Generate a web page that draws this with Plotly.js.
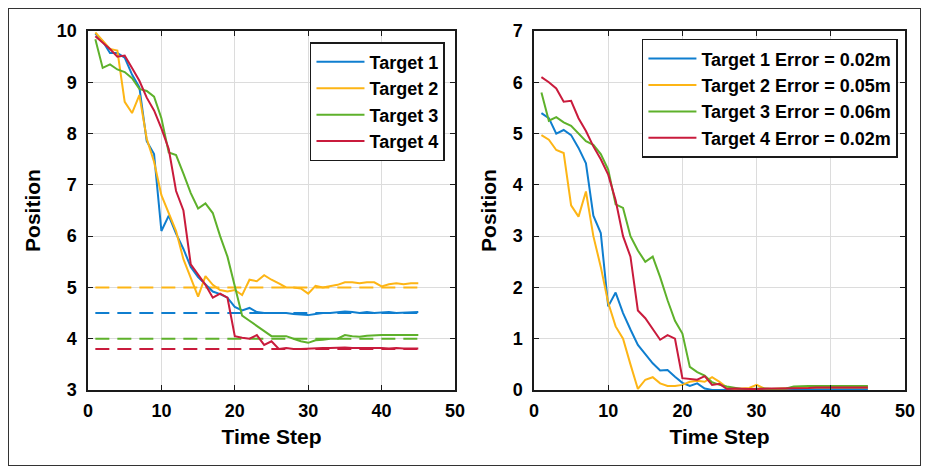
<!DOCTYPE html>
<html>
<head>
<meta charset="utf-8">
<script src="https://cdn.plot.ly/plotly-3.0.1.min.js"></script>
<style>
  html, body { margin: 0; padding: 0; background: #fff; }
  #wrap { position: relative; width: 929px; height: 473px; }
  #chart { width: 929px; height: 473px; }
  #frame { position: absolute; left: 8px; top: 8px; width: 911px; height: 456px;
           border: 1.5px solid #333; pointer-events: none; }
</style>
</head>
<body>
<div id="wrap"><div id="chart"></div><div id="frame"></div></div>
<script>
// ---------- data ----------
const steps = [1,2,3,4,5,6,7,8,9,10,11,12,13,14,15,16,17,18,19,20,21,22,23,24,25,26,27,28,29,30,31,32,33,34,35,36,37,38,39,40,41,42,43,44,45];

// Left panel: position per time step
const pos1 = [9.95,9.8,9.57,9.57,9.48,9.15,8.9,7.85,7.6,6.1,6.4,6.05,5.75,5.4,5.2,5.05,4.92,4.87,4.8,4.62,4.55,4.6,4.52,4.5,4.5,4.5,4.5,4.48,4.47,4.46,4.48,4.5,4.5,4.52,4.53,4.52,4.5,4.52,4.5,4.51,4.52,4.5,4.51,4.52,4.52];
const pos2 = [9.97,9.8,9.65,9.62,8.62,8.4,8.75,7.9,7.45,6.8,6.45,6.1,5.55,5.2,4.82,5.22,5.05,4.95,4.92,4.95,4.85,5.15,5.12,5.24,5.15,5.08,5.0,5.0,4.98,4.88,5.03,5.0,5.02,5.05,5.1,5.1,5.08,5.1,5.1,5.02,5.06,5.08,5.06,5.08,5.08];
const pos3 = [9.84,9.28,9.35,9.25,9.2,9.08,8.87,8.83,8.72,8.3,7.63,7.58,7.22,6.84,6.54,6.64,6.45,6.0,5.6,5.05,4.45,4.35,4.25,4.15,4.05,4.05,4.05,4.0,3.95,3.92,3.97,3.98,4.0,4.0,4.07,4.05,4.04,4.06,4.07,4.07,4.07,4.07,4.07,4.07,4.07];
const pos4 = [9.9,9.78,9.65,9.5,9.52,9.28,9.03,8.7,8.45,8.1,7.7,6.88,6.5,5.45,5.25,5.05,4.8,4.88,4.8,4.05,4.02,4.0,4.07,3.88,3.95,3.8,3.82,3.8,3.8,3.81,3.82,3.82,3.82,3.83,3.83,3.82,3.82,3.83,3.82,3.82,3.81,3.82,3.81,3.81,3.81];

// Target reference levels (dashed)
const refSteps = [1, 45];
const targetLevels = [4.5, 5.0, 4.0, 3.8];

// Right panel: error per time step
const err1 = [5.4,5.3,5.0,5.07,4.97,4.72,4.42,3.4,3.06,1.63,1.9,1.5,1.18,0.88,0.7,0.52,0.38,0.39,0.26,0.14,0.08,0.13,0.03,0.0,0.0,0.01,0.01,0.01,0.02,0.02,0.02,0.02,0.02,0.02,0.02,0.02,0.02,0.02,0.02,0.02,0.02,0.02,0.02,0.02,0.02];
const err2 = [4.97,4.88,4.68,4.62,3.6,3.38,3.87,3.0,2.4,1.7,1.24,1.0,0.5,0.02,0.2,0.25,0.13,0.08,0.08,0.1,0.16,0.18,0.16,0.25,0.16,0.05,0.02,0.03,0.04,0.1,0.03,0.02,0.03,0.03,0.04,0.04,0.05,0.05,0.05,0.05,0.05,0.05,0.05,0.05,0.05];
const err3 = [5.8,5.25,5.32,5.22,5.15,5.0,4.85,4.78,4.6,4.3,3.62,3.55,3.0,2.72,2.5,2.6,2.2,1.75,1.35,1.1,0.45,0.35,0.28,0.15,0.1,0.07,0.04,0.02,0.02,0.03,0.03,0.02,0.02,0.03,0.07,0.08,0.08,0.08,0.08,0.08,0.08,0.08,0.08,0.08,0.08];
const err4 = [6.1,6.0,5.88,5.62,5.64,5.3,5.05,4.75,4.5,4.2,3.7,3.0,2.6,1.55,1.4,1.2,0.98,1.07,1.0,0.23,0.22,0.2,0.27,0.1,0.12,0.02,0.03,0.02,0.02,0.02,0.03,0.03,0.03,0.03,0.04,0.04,0.04,0.05,0.05,0.05,0.05,0.05,0.05,0.05,0.05];

const leftNames = ["Target 1", "Target 2", "Target 3", "Target 4"];
const rightNames = ["Target 1 Error = 0.02m", "Target 2 Error = 0.05m", "Target 3 Error = 0.06m", "Target 4 Error = 0.02m"];
const xTicks = [0, 10, 20, 30, 40, 50];

// ---------- styles ----------
const colors = ["#0F7ECF", "#FDB515", "#5EB12B", "#C91B3C"];
const FONT = "Arial, 'Liberation Sans', sans-serif";

const posSeries = [pos1, pos2, pos3, pos4];
const errSeries = [err1, err2, err3, err4];

const traces = [];
// dashed reference lines first (under)
targetLevels.forEach((lv, i) => {
  traces.push({
    x: refSteps, y: [lv, lv], mode: "lines", xaxis: "x", yaxis: "y",
    line: { color: colors[i], width: 2, dash: "14px,8px" },
    showlegend: false, hoverinfo: "skip"
  });
});
posSeries.forEach((s, i) => {
  traces.push({
    x: steps, y: s, mode: "lines", name: leftNames[i], xaxis: "x", yaxis: "y",
    line: { color: colors[i], width: 2 }, legend: "legend"
  });
});
errSeries.forEach((s, i) => {
  traces.push({
    x: steps, y: s, mode: "lines", name: rightNames[i], xaxis: "x2", yaxis: "y2",
    line: { color: colors[i], width: 2 }, legend: "legend2"
  });
});

const tickFont = { family: FONT, size: 18, color: "#000", weight: "bold" };
const titleFont = { family: FONT, size: 21, color: "#000", weight: "bold" };

function xAxis(domain, anchor) {
  return {
    domain: domain, anchor: anchor, range: [0, 50], tickvals: xTicks,
    showgrid: true, gridcolor: "#dcdcdc", gridwidth: 1.2, zeroline: false,
    showline: true, linecolor: "#1a1a1a", linewidth: 1.6, mirror: "ticks",
    ticks: "inside", ticklen: 5, tickcolor: "#1a1a1a", tickwidth: 1.2,
    tickfont: tickFont, ticklabelstandoff: 4,
    title: { text: "Time Step", font: titleFont, standoff: 9 }
  };
}
function yAxis(range, anchor) {
  return {
    anchor: anchor, range: range, dtick: 1,
    showgrid: true, gridcolor: "#dcdcdc", gridwidth: 1.2, zeroline: false,
    showline: true, linecolor: "#1a1a1a", linewidth: 1.6, mirror: "ticks",
    ticks: "inside", ticklen: 5, tickcolor: "#1a1a1a", tickwidth: 1.2,
    tickfont: tickFont, ticklabelstandoff: 6,
    title: { text: "Position", font: titleFont, standoff: 10 }
  };
}

const legendBase = {
  bgcolor: "#fff", bordercolor: "#1a1a1a", borderwidth: 1.5,
  font: { family: FONT, size: 18, color: "#000", weight: "bold" },
  xanchor: "left", yanchor: "top", tracegroupgap: 0, itemwidth: 48
};

const layout = {
  width: 929, height: 473,
  margin: { l: 88, r: 24, t: 31, b: 83 },
  paper_bgcolor: "#fff", plot_bgcolor: "#fff",
  showlegend: true,
  xaxis: xAxis([0, 0.4492], "y"),
  yaxis: yAxis([3, 10], "x"),
  xaxis2: xAxis([0.5459, 1], "y2"),
  yaxis2: yAxis([0, 7], "x2"),
  legend: Object.assign({}, legendBase, { x: 0.2717, y: 0.969 }),
  legend2: Object.assign({}, legendBase, { x: 0.678, y: 0.978 })
};

Plotly.newPlot("chart", traces, layout, { staticPlot: true, displayModeBar: false });
</script>
</body>
</html>
